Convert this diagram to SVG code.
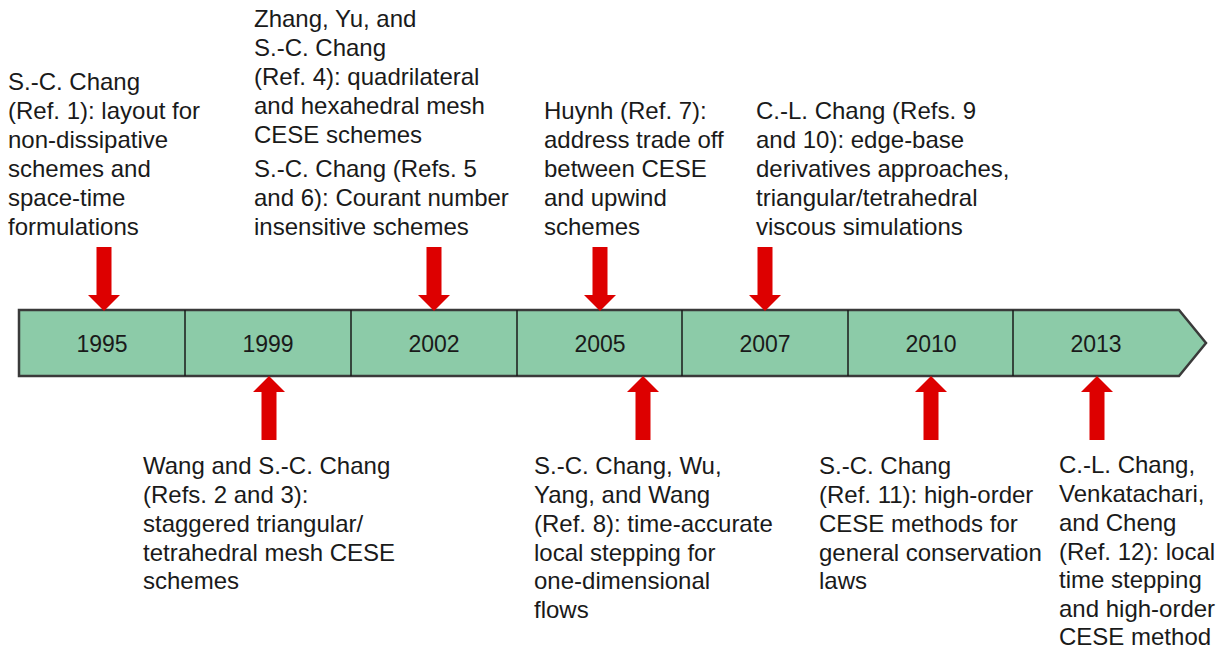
<svg xmlns="http://www.w3.org/2000/svg" width="1225" height="649" viewBox="0 0 1225 649">
<defs>
<style>
.t{font-family:"Liberation Sans",Arial,sans-serif;font-size:24px;fill:#1a1a1a}
.y{font-family:"Liberation Sans",Arial,sans-serif;font-size:23px;fill:#1a1a1a;text-anchor:middle}
.bar{fill:#8ccba8;stroke:#3a3a3a;stroke-width:2.5}
.div{stroke:#1a1a1a;stroke-width:1.5}
.arr{fill:#dd0000}
</style>
</defs>
<rect width="1225" height="649" fill="#ffffff"/>
<g id="timeline">
<polygon class="bar" points="19,310 1179,310 1206,343 1179,376 19,376"/>
<line class="div" x1="185" y1="310" x2="185" y2="376"/>
<line class="div" x1="351" y1="310" x2="351" y2="376"/>
<line class="div" x1="517" y1="310" x2="517" y2="376"/>
<line class="div" x1="682" y1="310" x2="682" y2="376"/>
<line class="div" x1="848" y1="310" x2="848" y2="376"/>
<line class="div" x1="1013" y1="310" x2="1013" y2="376"/>
<text class="y" x="102" y="352">1995</text>
<text class="y" x="268" y="352">1999</text>
<text class="y" x="434" y="352">2002</text>
<text class="y" x="600" y="352">2005</text>
<text class="y" x="765" y="352">2007</text>
<text class="y" x="931" y="352">2010</text>
<text class="y" x="1096" y="352">2013</text>
</g>
<g id="connectors">
<polygon class="arr" points="96.5,247 111.5,247 111.5,295 120,295 104,311 88,295 96.5,295"/>
<polygon class="arr" points="426.5,247 441.5,247 441.5,295 450,295 434,311 418,295 426.5,295"/>
<polygon class="arr" points="592.5,247 607.5,247 607.5,295 616,295 600,311 584,295 592.5,295"/>
<polygon class="arr" points="757.5,247 772.5,247 772.5,295 781,295 765,311 749,295 757.5,295"/>
<polygon class="arr" points="261.5,440 276.5,440 276.5,392 285,392 269,376 253,392 261.5,392"/>
<polygon class="arr" points="635.5,440 650.5,440 650.5,392 659,392 643,376 627,392 635.5,392"/>
<polygon class="arr" points="923.5,440 938.5,440 938.5,392 947,392 931,376 915,392 923.5,392"/>
<polygon class="arr" points="1089.5,440 1104.5,440 1104.5,392 1113,392 1097,376 1081,392 1089.5,392"/>
</g>
<g id="n1995">
<text class="t" x="8" y="90">S.-C. Chang</text>
<text class="t" x="8" y="119">(Ref. 1): layout for</text>
<text class="t" x="8" y="148">non-dissipative</text>
<text class="t" x="8" y="177">schemes and</text>
<text class="t" x="8" y="206">space-time</text>
<text class="t" x="8" y="235">formulations</text>
</g>
<g id="n2002">
<text class="t" x="254" y="27">Zhang, Yu, and</text>
<text class="t" x="254" y="56">S.-C. Chang</text>
<text class="t" x="254" y="85">(Ref. 4): quadrilateral</text>
<text class="t" x="254" y="114">and hexahedral mesh</text>
<text class="t" x="254" y="143">CESE schemes</text>
<text class="t" x="254" y="177">S.-C. Chang (Refs. 5</text>
<text class="t" x="254" y="206">and 6): Courant number</text>
<text class="t" x="254" y="235">insensitive schemes</text>
</g>
<g id="n2005a">
<text class="t" x="544" y="119">Huynh (Ref. 7):</text>
<text class="t" x="544" y="148">address trade off</text>
<text class="t" x="544" y="177">between CESE</text>
<text class="t" x="544" y="206">and upwind</text>
<text class="t" x="544" y="235">schemes</text>
</g>
<g id="n2007">
<text class="t" x="756" y="119">C.-L. Chang (Refs. 9</text>
<text class="t" x="756" y="148">and 10): edge-base</text>
<text class="t" x="756" y="177">derivatives approaches,</text>
<text class="t" x="756" y="206">triangular/tetrahedral</text>
<text class="t" x="756" y="235">viscous simulations</text>
</g>
<g id="n1999">
<text class="t" x="143" y="474">Wang and S.-C. Chang</text>
<text class="t" x="143" y="503">(Refs. 2 and 3):</text>
<text class="t" x="143" y="532">staggered triangular/</text>
<text class="t" x="143" y="561">tetrahedral mesh CESE</text>
<text class="t" x="143" y="589">schemes</text>
</g>
<g id="n2005b">
<text class="t" x="534" y="474">S.-C. Chang, Wu,</text>
<text class="t" x="534" y="503">Yang, and Wang</text>
<text class="t" x="534" y="532">(Ref. 8): time-accurate</text>
<text class="t" x="534" y="561">local stepping for</text>
<text class="t" x="534" y="589">one-dimensional</text>
<text class="t" x="534" y="618">flows</text>
</g>
<g id="n2010">
<text class="t" x="819" y="474">S.-C. Chang</text>
<text class="t" x="819" y="503">(Ref. 11): high-order</text>
<text class="t" x="819" y="532">CESE methods for</text>
<text class="t" x="819" y="561">general conservation</text>
<text class="t" x="819" y="589">laws</text>
</g>
<g id="n2013">
<text class="t" x="1059" y="473">C.-L. Chang,</text>
<text class="t" x="1059" y="502">Venkatachari,</text>
<text class="t" x="1059" y="531">and Cheng</text>
<text class="t" x="1059" y="560">(Ref. 12): local</text>
<text class="t" x="1059" y="588">time stepping</text>
<text class="t" x="1059" y="617">and high-order</text>
<text class="t" x="1059" y="645">CESE method</text>
</g>
</svg>
